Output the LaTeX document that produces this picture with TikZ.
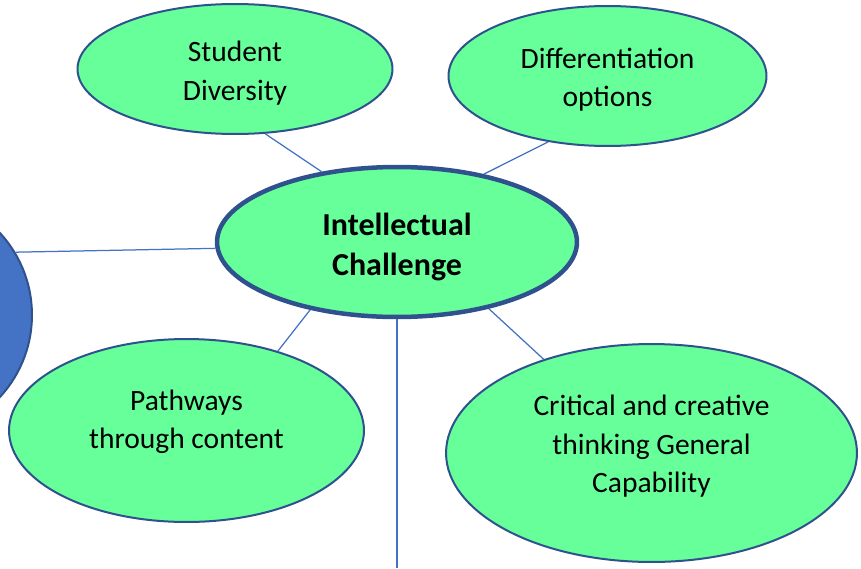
\documentclass[tikz,border=0pt]{standalone}
\usepackage{fontspec}
\setmainfont{Carlito}
\usetikzlibrary{shapes.geometric}

\definecolor{mint}{HTML}{66FF99}
\definecolor{rim}{HTML}{2F528F}
\definecolor{wire}{HTML}{4472C4}

% invisible struts to nudge the text inside a bubble
\newcommand{\tallstrut}[1]{\rule{0pt}{#1}}
\newcommand{\deepstrut}[1]{\rule[-#1]{0pt}{#1}}

\begin{document}
\begin{tikzpicture}[
        x=0.02cm, y=-0.02cm,
        bubble/.style={ellipse, draw=rim, fill=mint, line width=0.04cm,
            inner sep=0pt, align=center,
            font=\fontsize{16.8}{21.8}\selectfont},
        hub/.style={bubble, line width=0.09cm,
            font=\fontsize{18.2}{23}\selectfont\bfseries},
        ball/.style={circle, draw=rim, fill=wire, line width=0.04cm,
            inner sep=0pt},
        spoke/.style={wire, line width=0.025cm},
    ]

    \clip (0,0) rectangle (861,568);

    \node[hub, minimum width=7.2cm, minimum height=3.0cm] (ic) at (397,242)
        {\tallstrut{18.2pt}Intellectual\\Challenge};

    \node[bubble, minimum width=6.3cm, minimum height=2.6cm] (sd) at (235,69)
        {\tallstrut{16.4pt}Student\\Diversity};
    \node[bubble, minimum width=6.36cm, minimum height=2.8cm] (do) at (607.5,76)
        {\tallstrut{15.5pt}Differentiation\\options};
    \node[bubble, minimum width=7.1cm, minimum height=3.66cm] (pw) at (186.5,430.5)
        {Pathways\\through content\deepstrut{12.5pt}};
    \node[bubble, minimum width=8.22cm, minimum height=4.36cm] (cc) at (651.5,453)
        {Critical and creative\\thinking General\\Capability\deepstrut{10.2pt}};

    \node[ball, minimum size=4.84cm] (bc) at (-89,315) {};

    \coordinate (stem) at (397,568);

    \draw[spoke] (sd.-65) -- (ic.137);
    \draw[spoke] (do.228) -- (ic.38);
    \draw[spoke] (bc.31) -- (ic.-178);
    \draw[spoke] (pw.41) -- (ic.218);
    \draw[spoke] (cc.139) -- (ic.-36);
    \draw[spoke] (ic.south) -- (stem);

\end{tikzpicture}
\end{document}
